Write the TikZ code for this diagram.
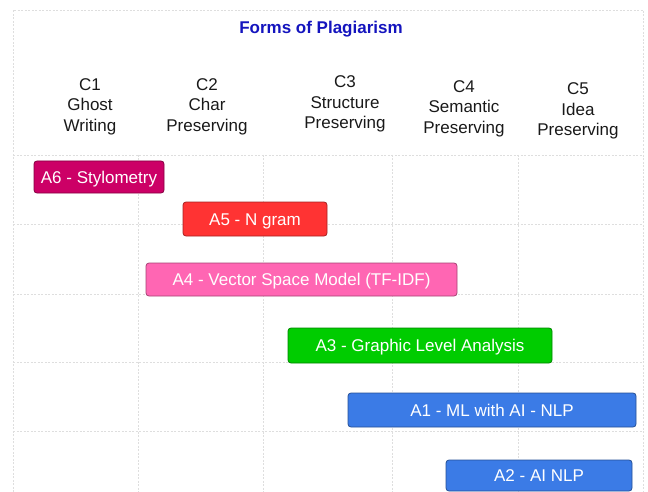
\documentclass[tikz,border=0pt]{standalone}
\usepackage{fontspec}
\setmainfont{Liberation Sans}
\definecolor{titleblue}{RGB}{20,20,190}
\definecolor{hdrtext}{RGB}{25,25,25}
\definecolor{gridc}{RGB}{222,222,222}
\definecolor{cA6}{HTML}{CC0066}
\definecolor{cA5}{HTML}{FF3333}
\definecolor{cA4}{HTML}{FF66B3}
\definecolor{cA3}{HTML}{00CC00}
\definecolor{cA1}{HTML}{3B7BE6}
\tikzset{
  gridline/.style={draw=gridc, line width=0.9pt, dash pattern=on 2pt off 1.5pt},
  hdr/.style={align=center, text=hdrtext, inner sep=0pt, font=\fontsize{17}{20.5}\selectfont},
  bar/.style={rectangle, rounded corners=3pt, draw=#1!65!black, fill=#1, line width=0.8pt,
    text=white, inner sep=0pt, text height=12.2pt, text depth=0pt, font=\fontsize{17}{20}\selectfont},
}
\begin{document}
\begin{tikzpicture}[x=1pt,y=-1pt]
\useasboundingbox (0,0) rectangle (648,492);
% grid
\draw[gridline] (13,492) -- (13,10) -- (643,10) -- (643,492);
\foreach \yy in {155,224,294,362,431} \draw[gridline] (13,\yy) -- (643,\yy);
\foreach \xx in {138,263,392,518} \draw[gridline] (\xx,155) -- (\xx,492);
% title
\node[text=titleblue, font=\fontsize{17}{20}\selectfont\bfseries, text height=12.2pt, text depth=0pt, inner sep=0pt] (title) at (321,27) {Forms of Plagiarism};
% headers
\node[hdr] (c1) at (90,106.5) {C1\\Ghost\\Writing};
\node[hdr] (c2) at (207,106.5) {C2\\Char\\Preserving};
\node[hdr] (c3) at (345,104) {C3\\Structure\\Preserving};
\node[hdr] (c4) at (464,108.5) {C4\\Semantic\\Preserving};
\node[hdr] (c5) at (578,111) {C5\\Idea\\Preserving};
% bars
\node[bar=cA6, minimum width=130, minimum height=32] (a6) at (99,177) {A6 - Stylometry};
\node[bar=cA5, minimum width=144, minimum height=34] (a5) at (255,219) {A5 - N gram};
\node[bar=cA4, minimum width=311, minimum height=33] (a4) at (301.5,279.5) {A4 - Vector Space Model (TF-IDF)};
\node[bar=cA3, minimum width=264, minimum height=35] (a3) at (420,345.5) {A3 - Graphic Level Analysis};
\node[bar=cA1, minimum width=288, minimum height=34] (a1) at (492,410) {A1 - ML with AI - NLP};
\node[bar=cA1, minimum width=186, minimum height=31] (a2) at (539,475.5) {A2 - AI NLP};
\end{tikzpicture}
\end{document}
